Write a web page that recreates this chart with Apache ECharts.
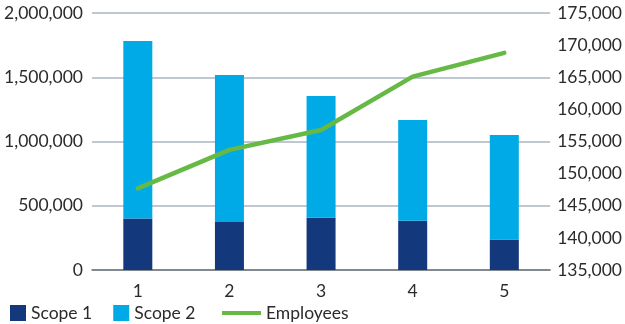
<!DOCTYPE html>
<html>
<head>
<meta charset="utf-8">
<script src="https://cdn.jsdelivr.net/npm/echarts@6/dist/echarts.min.js"></script>
<style>
  html, body { margin: 0; padding: 0; background: #fff; }
  #chart { width: 625px; height: 324px; }
</style>
</head>
<body>
<div id="chart"></div>
<script>
const categories = ['1', '2', '3', '4', '5'];
const scope1 = [400000, 374000, 407000, 384000, 236000];
const scope2 = [1382000, 1143000, 947000, 783000, 814000];
const employees = [147700, 153700, 156800, 165100, 168800];

const fontSize = 17.5;
const textColor = '#2b2b2b';
const fmt = (v) => v.toLocaleString('en-US');

const chart = echarts.init(document.getElementById('chart'));
const option = {
    animation: false,
    textStyle: { fontFamily: 'Lato' },
    grid: { left: 92, right: 70, top: 13, bottom: 54 },
    legend: [
        {
            data: [
                { name: 'Scope 1', icon: 'rect' },
                { name: 'Scope 2', icon: 'rect' },
            ],
            left: 5,
            top: 299,
            itemWidth: 16,
            itemHeight: 16,
            itemGap: 21,
            textStyle: { fontSize: fontSize, color: textColor, fontFamily: 'Lato' },
        },
        {
            // plain line icon, no marker
            data: [{ name: 'Employees', icon: 'path://M0,0h39v4h-39z' }],
            left: 217,
            top: 299,
            itemWidth: 39,
            itemHeight: 16,
            textStyle: { fontSize: fontSize, color: textColor, fontFamily: 'Lato' },
        },
    ],
    xAxis: {
        type: 'category',
        data: categories,
        axisTick: { show: false },
        axisLine: { lineStyle: { color: '#6d7378', width: 1.5 } },
        axisLabel: { fontSize: fontSize, color: textColor, margin: 12 },
    },
    yAxis: [
        {
            type: 'value',
            min: 0,
            max: 2000000,
            interval: 500000,
            axisLine: { show: false },
            axisTick: { show: false },
            splitLine: { lineStyle: { color: '#aab6c1', width: 1.5 } },
            axisLabel: { fontSize: fontSize, color: textColor, margin: 9, formatter: fmt },
        },
        {
            type: 'value',
            min: 135000,
            max: 175000,
            interval: 5000,
            axisLine: { show: false },
            axisTick: { show: false },
            splitLine: { show: false },
            axisLabel: { fontSize: fontSize, color: textColor, margin: 7, formatter: fmt },
        },
    ],
    series: [
        {
            name: 'Scope 1',
            type: 'bar',
            stack: 'total',
            data: scope1,
            barWidth: 29,
            itemStyle: { color: '#13387c' },
        },
        {
            name: 'Scope 2',
            type: 'bar',
            stack: 'total',
            data: scope2,
            barWidth: 29,
            itemStyle: { color: '#00aae6' },
        },
        {
            name: 'Employees',
            type: 'line',
            yAxisIndex: 1,
            data: employees,
            symbol: 'none',
            lineStyle: { color: '#66b945', width: 4.5, cap: 'round', join: 'round' },
            itemStyle: { color: '#66b945' },
        },
    ],
};
chart.setOption(option);
</script>
</body>
</html>
